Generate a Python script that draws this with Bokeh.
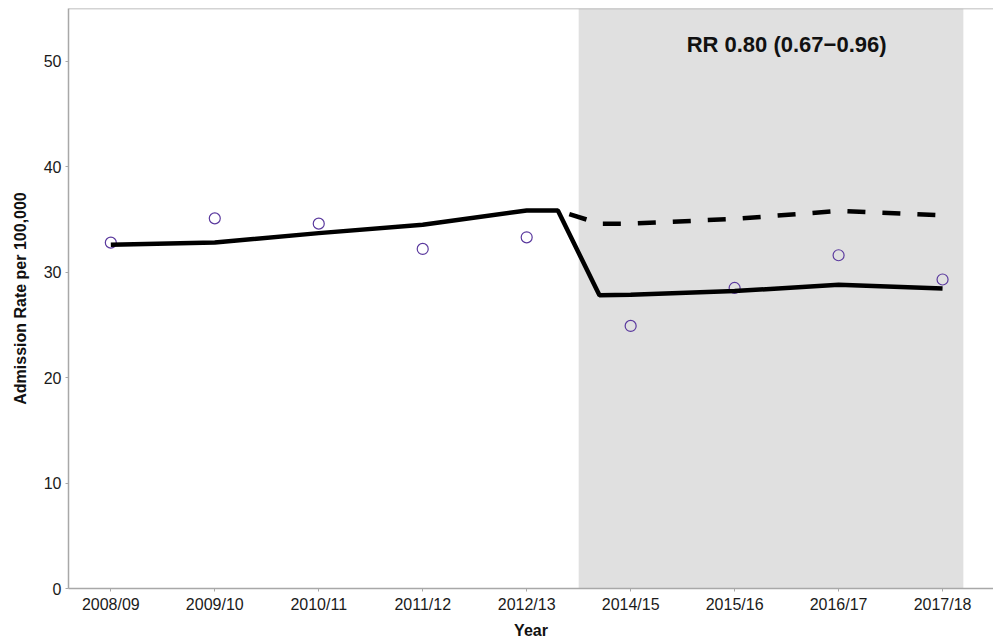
from bokeh.plotting import figure
from bokeh.models import BoxAnnotation, Span, FixedTicker
from bokeh.core.properties import value
from bokeh.embed import file_html
from bokeh.resources import INLINE

# ---- data ----
year_labels = ["2008/09", "2009/10", "2010/11", "2011/12", "2012/13",
               "2014/15", "2015/16", "2016/17", "2017/18"]
year_pos = [0, 1, 2, 3, 4, 5, 6, 7, 8]
observed_rate = [32.8, 35.1, 34.6, 32.2, 33.3, 24.9, 28.5, 31.6, 29.3]

fitted_x = [0, 1, 2, 3, 4, 4.3, 4.7, 5, 6, 7, 8]
fitted_y = [32.6, 32.8, 33.7, 34.5, 35.85, 35.85, 27.8, 27.85, 28.2, 28.8, 28.45]

counterfactual_x = [4.3, 4.7, 5, 6, 7, 8]
counterfactual_y = [35.85, 34.6, 34.6, 35.05, 35.8, 35.4]

post_start, post_end = 4.5, 8.2
rr_label = ["RR 0.80 (0.67\u22120.96)"]
rr_x, rr_y = [6.5], [51.6]

FONT = "Liberation Sans"
AXIS_GREY = "#a8a8a8"

p = figure(frame_width=925, frame_height=580,
           x_range=(-0.407, 8.49), y_range=(0, 55),
           output_backend="svg", toolbar_location=None,
           min_border_left=68, min_border_right=0,
           min_border_top=8, min_border_bottom=50)

p.outline_line_color = None
p.xgrid.visible = False
p.ygrid.visible = False
p.background_fill_color = "white"

p.add_layout(BoxAnnotation(left=post_start, right=post_end,
                           fill_color="#e0e0e0", fill_alpha=1.0,
                           line_color=None, level="underlay"))
p.add_layout(Span(location=55, dimension="width",
                  line_color=AXIS_GREY, line_width=1.5))

p.scatter(year_pos, observed_rate, marker="circle", size=11,
          fill_color=None, line_color="#5b3a9e", line_width=1.2)

p.line(fitted_x, fitted_y, line_color="black", line_width=4.5)
p.line(counterfactual_x, counterfactual_y, line_color="black",
       line_width=4.5, line_dash="18 17", line_dash_offset=23)

p.text(x=rr_x, y=rr_y, text=rr_label, text_font=value(FONT),
       text_font_size="22px", text_font_style="bold",
       text_align="center", text_baseline="middle", text_color="#111111")

for ax in (p.xaxis[0], p.yaxis[0]):
    ax.axis_line_color = AXIS_GREY
    ax.axis_line_width = 1.5
    ax.major_tick_line_color = AXIS_GREY
    ax.major_tick_out = 3
    ax.major_tick_in = 0
    ax.minor_tick_line_color = None
    ax.major_label_text_font = FONT
    ax.major_label_text_font_size = "16px"
    ax.major_label_text_color = "#1a1a1a"
    ax.axis_label_text_font = FONT
    ax.axis_label_text_font_size = "16px"
    ax.axis_label_text_font_style = "bold"
    ax.axis_label_text_color = "#111111"
    ax.major_label_standoff = 4

p.xaxis.ticker = FixedTicker(ticks=year_pos)
p.xaxis.major_label_overrides = {pos: lab for pos, lab in zip(year_pos, year_labels)}
p.xaxis.axis_label = "Year"
p.xaxis.axis_label_standoff = 6

p.yaxis.ticker = FixedTicker(ticks=[0, 10, 20, 30, 40, 50])
p.yaxis.axis_label = "Admission Rate per 100,000"
p.yaxis.axis_label_standoff = 12

open("out.html", "w").write(file_html(p, INLINE))
